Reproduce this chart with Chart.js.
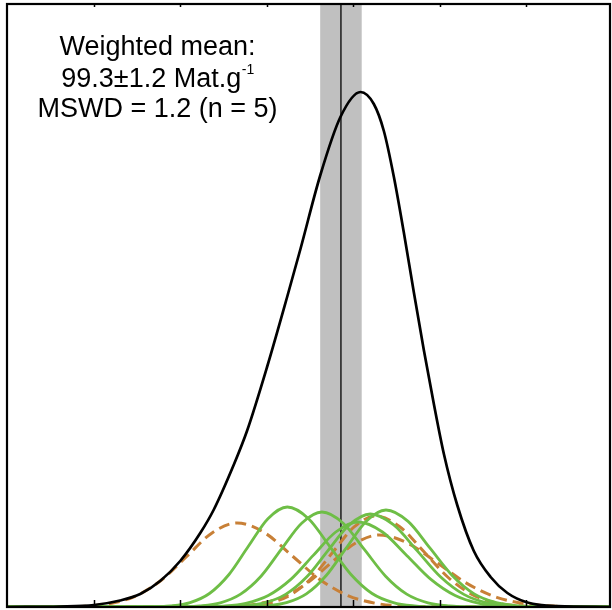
<!DOCTYPE html>
<html>
<head>
<meta charset="utf-8">
<script src="https://cdn.jsdelivr.net/npm/chart.js@4"></script>
<style>
html,body{margin:0;padding:0;background:#fff;}
#c{display:block;}
</style>
</head>
<body>
<canvas id="c" width="612" height="610"></canvas>
<script>
// ---- data ----
const xMin = 80, xMax = 114.85;
const tickValues = [85, 90, 95, 100, 105, 110];
const meanValue = 99.3, meanErr = 1.2, mswd = 1.2, nUsed = 5;
const unitText = 'Mat.g';

// summed probability curve (black)
const blackX = [80,83.07,85.03,86.54,87.70,88.85,90.01,91.17,91.94,93.10,93.87,95.03,96.19,96.96,98.11,99.27,100.43,101.20,101.78,102.36,102.93,103.51,104.09,104.67,105.25,106.02,106.98,107.95,108.92,110.08,111.81,114.85];
const blackY = [0,0.5,2,6.5,13,26,46,74,97,142,176,240,310,358,432,490,515,503,476,430,375,315,257,203,153,102,56,30,14,4.5,0.8,0];

// accepted samples (green)
const g1X = [80,88.33,89.45,90.58,91.7,92.83,93.95,95.08,96.2,97.43,98.65,99.88,101.1,102.33,103.55,104.78,114.85];
const g1Y = [0,0.2,1.1,4.4,13.5,32.5,60.7,88.3,100,88.3,60.7,32.5,13.5,4.4,1.1,0.2,0];
const g2X = [80,89.98,91.15,92.33,93.5,94.68,95.85,97.03,98.2,99.43,100.65,101.88,103.1,104.33,105.55,106.78,114.85];
const g2Y = [0,0.2,1.1,4.2,12.9,30.8,57.6,83.8,95,83.8,57.6,30.8,12.9,4.2,1.1,0.2,0];
const g3X = [80,91.2,92.5,93.8,95.1,96.4,97.7,99.0,100.3,101.7,103.1,104.5,105.9,107.3,108.7,110.1,114.85];
const g3Y = [0,0.2,0.9,3.7,11.5,27.6,51.6,75.0,85,75.0,51.6,27.6,11.5,3.7,0.9,0.2,0];
const g4X = [80,92.43,93.65,94.88,96.1,97.33,98.55,99.78,101,102.35,103.7,105.05,106.4,107.75,109.1,110.45,114.85];
const g4Y = [0,0.2,1.0,4.1,12.6,30.2,56.4,82.1,93,82.1,56.4,30.2,12.6,4.1,1.0,0.2,0];
const g5X = [80,93.85,95.0,96.15,97.3,98.45,99.6,100.75,101.9,103.18,104.45,105.73,107.0,108.28,109.55,110.83,114.85];
const g5Y = [0,0.2,1.1,4.3,13.1,31.5,58.8,85.6,97,85.6,58.8,31.5,13.1,4.3,1.1,0.2,0];

// rejected samples (orange dashed)
const o1X = [80,83.15,84.6,86.05,87.5,88.95,90.4,91.85,93.3,94.9,96.5,98.1,99.7,101.3,102.9,104.5,114.85];
const o1Y = [0,0.2,0.9,3.7,11.4,27.3,50.9,74.1,84,74.1,50.9,27.3,11.4,3.7,0.9,0.2,0];
const o2X = [80,92.73,93.95,95.18,96.4,97.63,98.85,100.08,101.3,102.7,104.1,105.5,106.9,108.3,109.7,111.1,114.85];
const o2Y = [0,0.2,1.0,4.0,12.3,29.5,55.2,80.3,91,80.3,55.2,29.5,12.3,4.0,1.0,0.2,0];
const o3X = [80,91.7,93.1,94.5,95.9,97.3,98.7,100.1,101.5,103.2,104.9,106.6,108.3,110.0,111.7,113.4,114.85];
const o3Y = [0,0.2,0.8,3.2,9.7,23.4,43.7,63.5,72,63.5,43.7,23.4,9.7,3.2,0.8,0.2,0];

// ---- chart ----
const GREEN = 'rgb(110,190,70)';
const ORANGE = 'rgb(200,128,55)';
const pts = (xs, ys) => xs.map((x, i) => ({x: x, y: ys[i]}));

function curve(xs, ys, color, width, dash, order) {
  return {
    data: pts(xs, ys), borderColor: color, borderWidth: width, borderDash: dash,
    pointRadius: 0, fill: false, cubicInterpolationMode: 'monotone', order: order
  };
}

const overlay = {
  id: 'overlay',
  beforeDatasetsDraw(chart) {
    const {ctx, chartArea: a, scales: {x}} = chart;
    ctx.save();
    const x1 = x.getPixelForValue(meanValue - meanErr);
    const x2 = x.getPixelForValue(meanValue + meanErr);
    ctx.fillStyle = 'rgb(192,192,192)';
    ctx.fillRect(x1, a.top, x2 - x1, a.bottom - a.top);
    const xm = x.getPixelForValue(meanValue);
    ctx.strokeStyle = '#000';
    ctx.lineWidth = 1.3;
    ctx.beginPath(); ctx.moveTo(xm, a.top); ctx.lineTo(xm, a.bottom); ctx.stroke();
    ctx.restore();
  },
  afterDatasetsDraw(chart) {
    const {ctx, chartArea: a, scales: {x}} = chart;
    ctx.save();
    // ticks
    ctx.strokeStyle = '#000';
    ctx.lineWidth = 1.5;
    tickValues.forEach(v => {
      const px = Math.round(x.getPixelForValue(v)) + 0.5;
      ctx.beginPath(); ctx.moveTo(px, a.bottom); ctx.lineTo(px, a.bottom - 7); ctx.stroke();
      ctx.beginPath(); ctx.moveTo(px, a.top); ctx.lineTo(px, a.top + 3); ctx.stroke();
    });
    // frame
    ctx.lineWidth = 2.2;
    ctx.strokeRect(a.left, a.top, a.right - a.left, a.bottom - a.top);
    // text
    const cx = 157.5;
    const font = '"Liberation Sans", Arial, Helvetica, sans-serif';
    ctx.fillStyle = '#000';
    ctx.textBaseline = 'alphabetic';
    ctx.font = '27px ' + font;
    ctx.textAlign = 'center';
    ctx.fillText('Weighted mean:', cx, 55);
    const main = meanValue.toFixed(1) + '\u00B1' + meanErr.toFixed(1) + ' ' + unitText;
    const sup = '-1';
    ctx.textAlign = 'left';
    const wMain = ctx.measureText(main).width;
    ctx.font = '14px ' + font;
    const wSup = ctx.measureText(sup).width;
    const sx = cx - (wMain + wSup) / 2;
    ctx.font = '27px ' + font;
    ctx.fillText(main, sx, 86.5);
    ctx.font = '14px ' + font;
    ctx.fillText(sup, sx + wMain + 0.5, 74);
    ctx.font = '27px ' + font;
    ctx.textAlign = 'center';
    ctx.fillText('MSWD = ' + mswd.toFixed(1) + ' (n = ' + nUsed + ')', cx, 116.5);
    ctx.restore();
  }
};

new Chart(document.getElementById('c'), {
  type: 'line',
  data: {
    datasets: [
      curve(blackX, blackY, '#000', 2.7, [], 0),
      curve(g1X, g1Y, GREEN, 2.8, [], 1),
      curve(g2X, g2Y, GREEN, 2.8, [], 1),
      curve(g3X, g3Y, GREEN, 2.8, [], 1),
      curve(g4X, g4Y, GREEN, 2.8, [], 1),
      curve(g5X, g5Y, GREEN, 2.8, [], 1),
      curve(o1X, o1Y, ORANGE, 3, [11, 6], 2),
      curve(o2X, o2Y, ORANGE, 3, [11, 6], 2),
      curve(o3X, o3Y, ORANGE, 3, [11, 6], 2)
    ]
  },
  options: {
    responsive: false,
    animation: false,
    layout: {padding: {left: 7, top: 4, right: 2, bottom: 3}},
    plugins: {legend: {display: false}, tooltip: {enabled: false}},
    scales: {
      x: {type: 'linear', min: xMin, max: xMax, display: false},
      y: {type: 'linear', min: 0, max: 603, display: false}
    }
  },
  plugins: [overlay]
});
</script>
</body>
</html>
